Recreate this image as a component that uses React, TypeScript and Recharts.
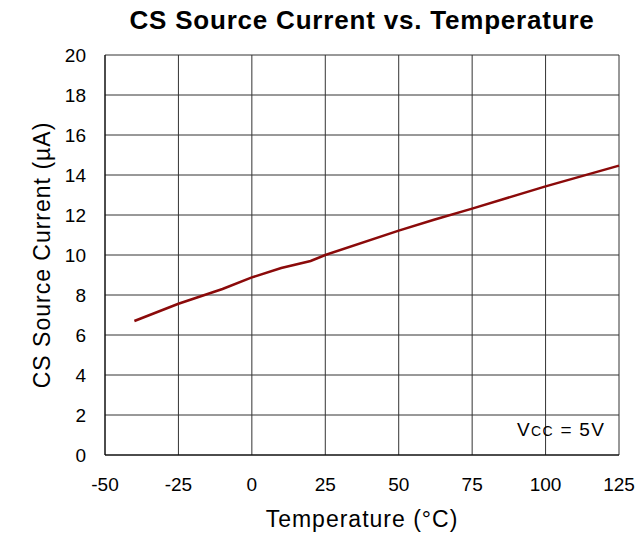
import React from "react";
import {
  LineChart,
  Line,
  XAxis,
  YAxis,
  CartesianGrid,
} from "recharts";

const TEMPS = [-40, -25, -10, 0, 10, 20, 25, 50, 62, 75, 100, 125];
const CURRENT = [6.7, 7.56, 8.3, 8.88, 9.35, 9.7, 10.0, 11.22, 11.76, 12.32, 13.43, 14.47];
const X_TICKS = [-50, -25, 0, 25, 50, 75, 100, 125];
const Y_TICKS = [0, 2, 4, 6, 8, 10, 12, 14, 16, 18, 20];

const data = TEMPS.map((t, i) => ({ temp: t, current: CURRENT[i] }));

const FONT = "'Liberation Sans', Arial, Helvetica, sans-serif";
const LINE = "#8B0A0A";
const GRID = "#333";

export default function App() {
  return (
    <div style={{ position: "absolute", left: 0, top: 0, width: 638, height: 534, background: "#fff", fontFamily: FONT }}>
      <div
        style={{
          position: "absolute",
          left: 105,
          width: 514,
          top: 5,
          textAlign: "center",
          fontSize: 26,
          fontWeight: "bold",
          letterSpacing: 0.8,
          color: "#000",
          whiteSpace: "nowrap",
        }}
      >
        CS Source Current vs. Temperature
      </div>
      <LineChart
        width={638}
        height={534}
        data={data}
        margin={{ top: 55, right: 19, left: 65, bottom: 49 }}
        style={{ fontFamily: FONT }}
      >
        <CartesianGrid stroke={GRID} strokeWidth={1} />
        <XAxis
          dataKey="temp"
          type="number"
          domain={[-50, 125]}
          ticks={X_TICKS}
          interval={0}
          height={30}
          tickLine={false}
          tickSize={0}
          tickMargin={23}
          axisLine={{ stroke: "#000" }}
          tick={{ fontSize: 19, fill: "#000" }}
          label={{
            value: "Temperature (°C)",
            position: "insideBottom",
            offset: -42,
            fontSize: 23,
            letterSpacing: 1,
            fill: "#000",
          }}
        />
        <YAxis
          type="number"
          domain={[0, 20]}
          ticks={Y_TICKS}
          interval={0}
          width={40}
          tickLine={false}
          tickSize={0}
          tickMargin={19}
          axisLine={{ stroke: "#000" }}
          tick={{ fontSize: 19, fill: "#000" }}
          label={{
            value: "CS Source Current (µA)",
            angle: -90,
            position: "center",
            dx: -43,
            fontSize: 23,
            letterSpacing: 1,
            fill: "#000",
          }}
        />
        <Line
          dataKey="current"
          type="linear"
          stroke={LINE}
          strokeWidth={2.5}
          dot={false}
          isAnimationActive={false}
        />
      </LineChart>
      <div
        style={{
          position: "absolute",
          left: 517,
          top: 419,
          fontSize: 19,
          letterSpacing: 1.3,
          color: "#000",
          whiteSpace: "nowrap",
        }}
      >
        V<span style={{ fontSize: 14 }}>CC</span> = 5V
      </div>
    </div>
  );
}
